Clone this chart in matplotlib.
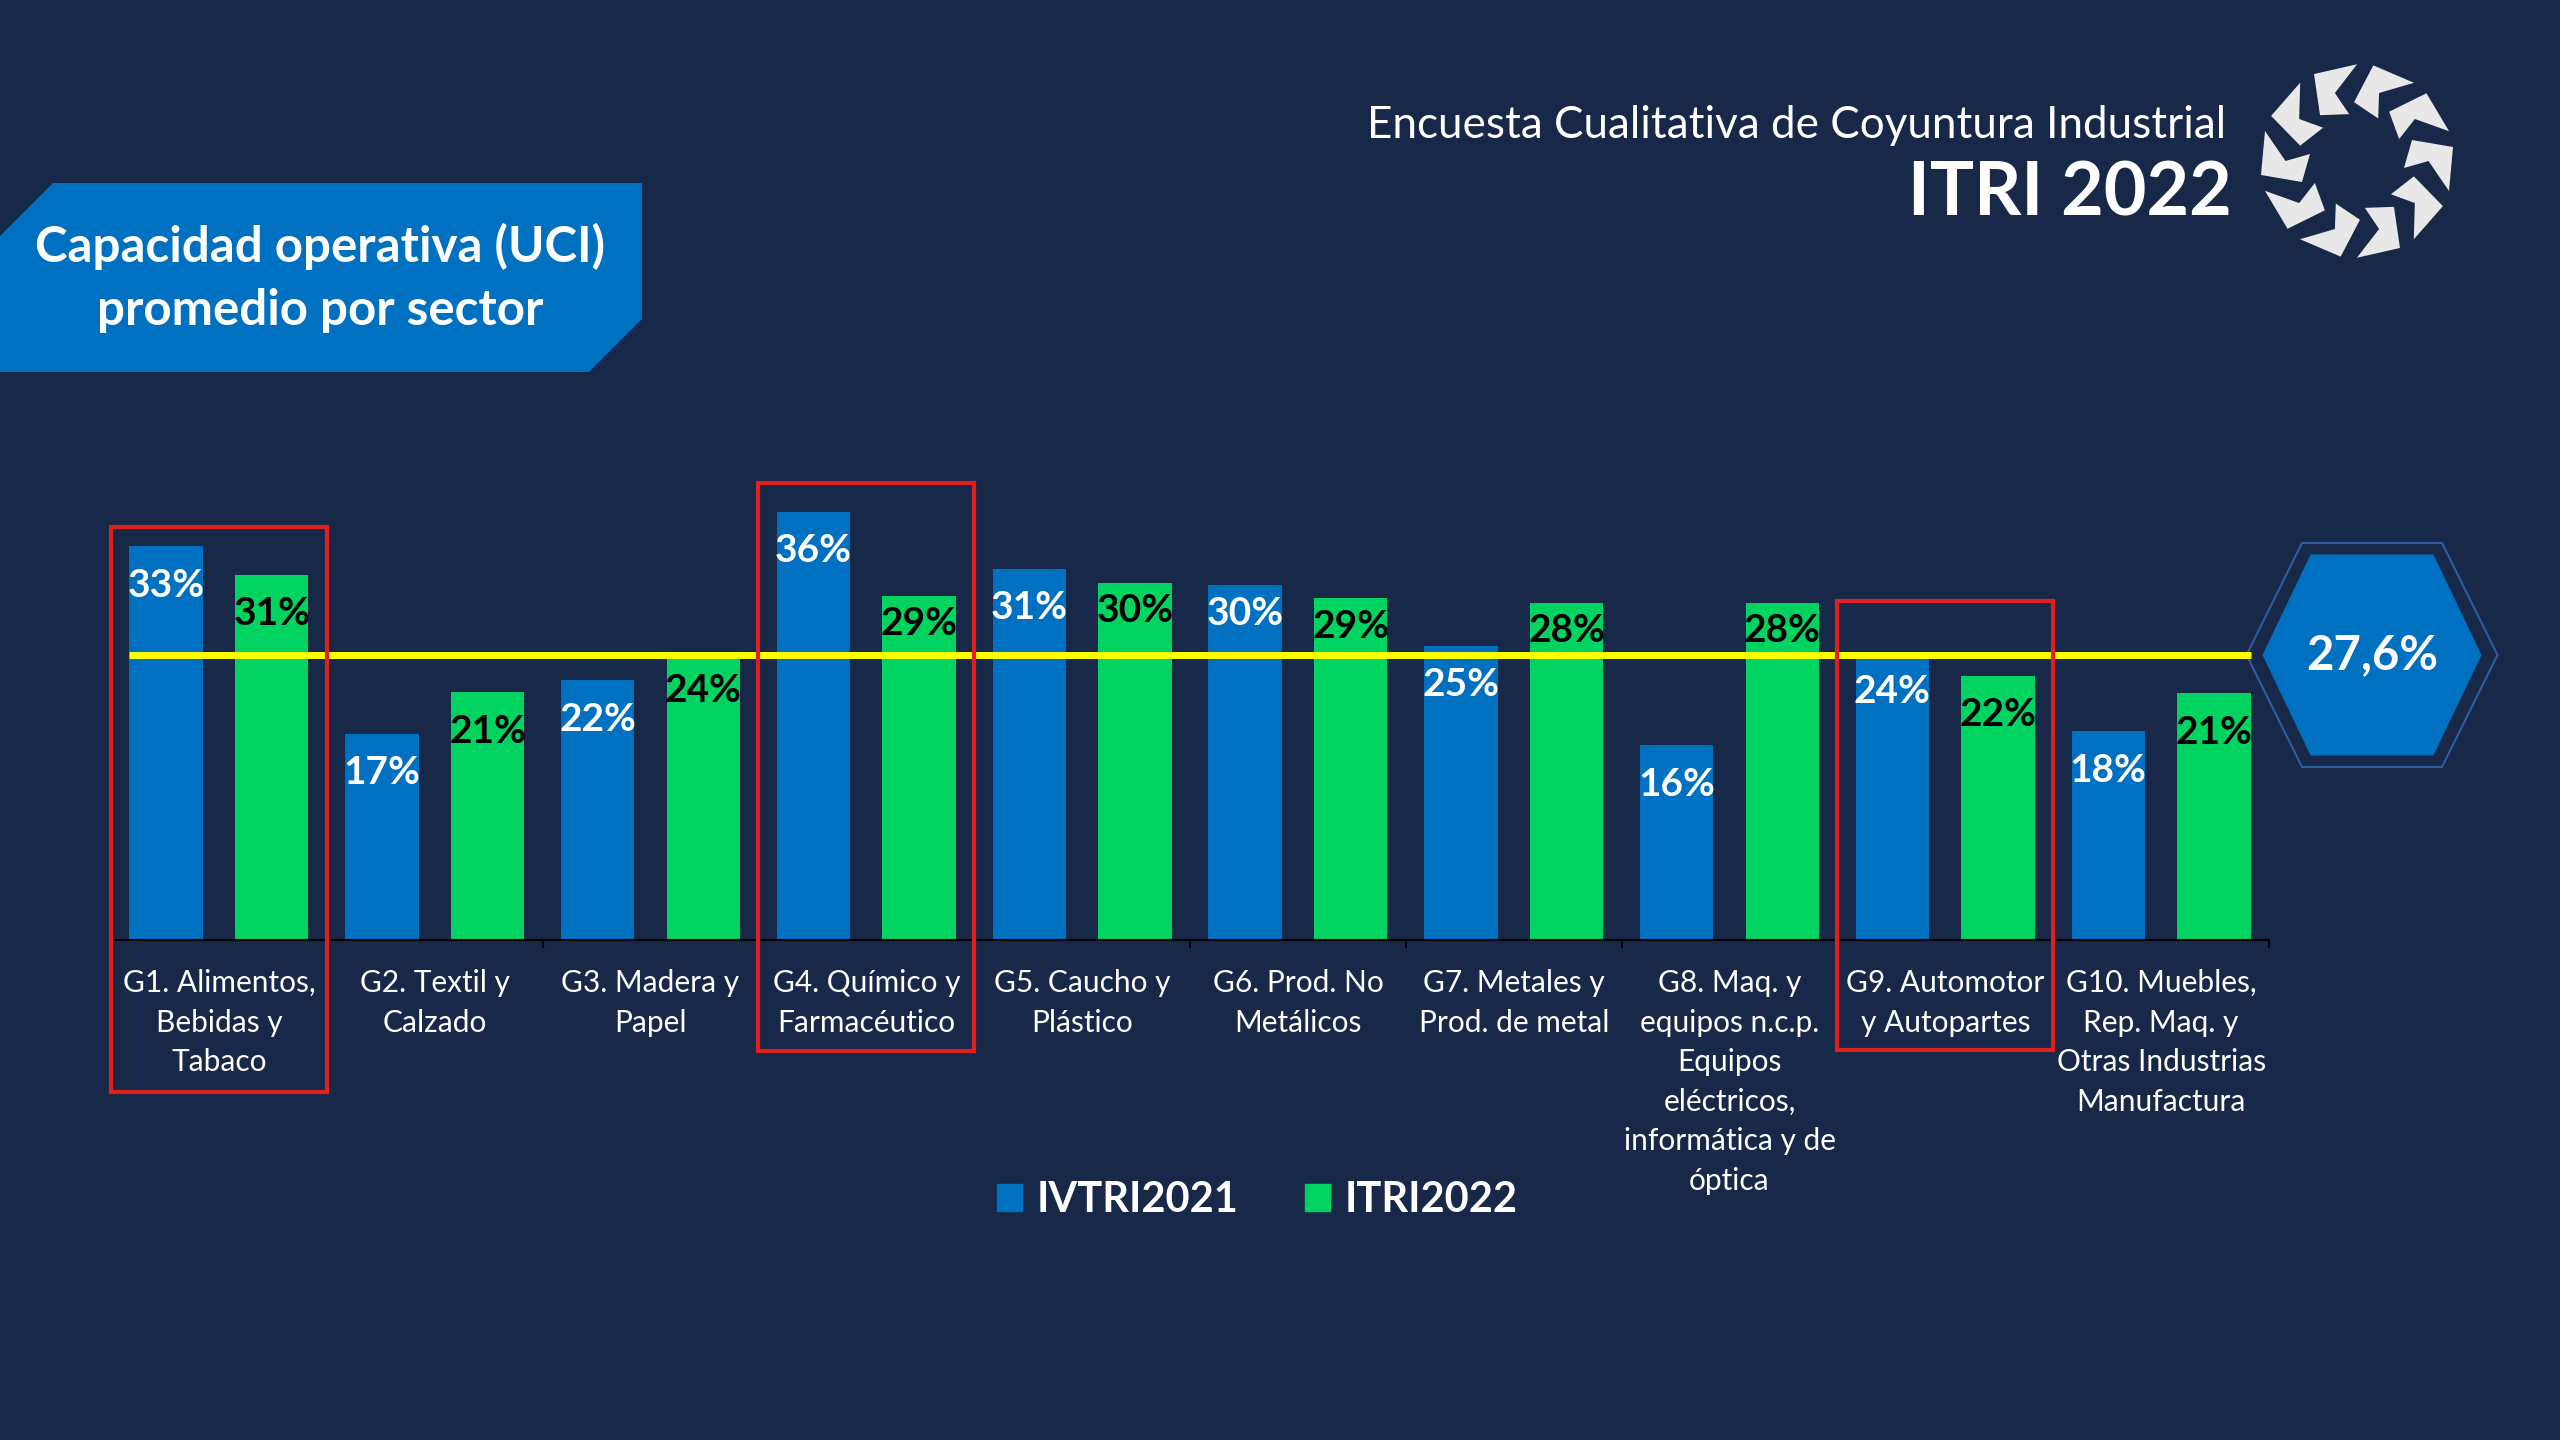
import numpy as np
import matplotlib
matplotlib.use("Agg")
from matplotlib import pyplot as plt
from matplotlib.patches import Polygon, Rectangle, Patch

plt.rcParams['font.family'] = ['Lato', 'DejaVu Sans']

# ---- data ----
sectors = [
    "G1. Alimentos,\nBebidas y\nTabaco",
    "G2. Textil y\nCalzado",
    "G3. Madera y\nPapel",
    "G4. Químico y\nFarmacéutico",
    "G5. Caucho y\nPlástico",
    "G6. Prod. No\nMetálicos",
    "G7. Metales y\nProd. de metal",
    "G8. Maq. y\nequipos n.c.p.\nEquipos\neléctricos,\ninformática y de\nóptica",
    "G9. Automotor\ny Autopartes",
    "G10. Muebles,\nRep. Maq. y\nOtras Industrias\nManufactura",
]
ivtri2021 = [33.2, 17.4, 21.9, 36.1, 31.3, 29.9, 24.8, 16.4, 24.2, 17.6]
itri2022 = [30.8, 20.9, 24.3, 29.0, 30.1, 28.8, 28.4, 28.4, 22.3, 20.8]
series_names = ["IVTRI2021", "ITRI2022"]
avg_label = "27,6%"
avg_line_level = 24.0          # where the yellow line sits in the picture
highlight = [0, 3, 8]          # sectors boxed in red
highlight_top = [34.8, 38.5, 28.6]
highlight_bottom = [-12.8, -9.4, -9.3]
# labels nudged up in the original so they clear the yellow line
raised_blue = [5]
raised_green = [3, 4, 5, 6, 7]

BG = "#182848"
BLUE = "#0070C0"
GREEN = "#00D35F"
RED = "#E0201E"
YELLOW = "#FFFF00"

W, H = 2560, 1440
fig = plt.figure(figsize=(W / 100, H / 100), dpi=100, facecolor=BG)

# full-figure overlay in pixel coordinates for decorations
deco = fig.add_axes([0, 0, 1, 1], zorder=0)
deco.set_xlim(0, W)
deco.set_ylim(H, 0)
deco.axis("off")
deco.set_facecolor("none")

# title banner
c = 53
deco.add_patch(Polygon([(c, 183), (642, 183), (642, 372 - c), (642 - c, 372),
                        (0, 372), (0, 183 + c)], closed=True, fc=BLUE, ec="none"))
deco.text(320, 278, "Capacidad operativa (UCI)\npromedio por sector", color="white",
          fontsize=35.5, fontweight="bold", ha="center", va="center",
          multialignment="center", linespacing=1.5)

# header
deco.text(2226, 125, "Encuesta Cualitativa de Coyuntura Industrial", color="white",
          fontsize=31.7, ha="right", va="center")
deco.text(2232, 194, "ITRI 2022", color="white", fontsize=53, fontweight="bold",
          ha="right", va="center")

# logo: ring of ten notched pieces (local tangential / radial coords)
lx, ly = 2357, 161
piece = [(14, 96), (-30, 92), (0, 71.5), (-7, 47), (21, 55)]
for k in range(10):
    a = np.deg2rad(108 + 36 * k)
    er = np.array([np.cos(a), np.sin(a)])
    et = np.array([-np.sin(a), np.cos(a)])
    pts = []
    for t, r in piece:
        p = t * et + r * er
        pts.append((lx + p[0], ly - p[1]))
    deco.add_patch(Polygon(pts, closed=True, fc="#E8E8E8", ec="none"))

# average hexagon
hx, hy = 2372, 655
def hexagon(w, h, top):
    return [(hx - w / 2, hy), (hx - top / 2, hy - h / 2), (hx + top / 2, hy - h / 2),
            (hx + w / 2, hy), (hx + top / 2, hy + h / 2), (hx - top / 2, hy + h / 2)]
deco.add_patch(Polygon(hexagon(251, 224, 140), closed=True, fc=BG, ec="#2E5C9E", lw=1.5))
deco.add_patch(Polygon(hexagon(219, 201, 123), closed=True, fc=BLUE, ec="none"))
deco.text(hx, hy, avg_label, color="white", fontsize=34, fontweight="bold",
          ha="center", va="center")

# ---- bar chart ----
ax = fig.add_axes([111 / W, 1 - 940 / H, 2158 / W, (940 - 465.6) / H], zorder=2)
ax.set_facecolor("none")
x = np.arange(len(sectors))
bw, off = 0.34, 0.245
ax.bar(x - off, ivtri2021, bw, color=BLUE, zorder=2)
ax.bar(x + off, itri2022, bw, color=GREEN, zorder=2)
ax.set_xlim(-0.5, len(sectors) - 0.5)
ax.set_ylim(0, 40)

for i, (xi, v) in enumerate(zip(x - off, ivtri2021)):
    dy = -20 if i in raised_blue else -28
    ax.annotate(f"{round(v)}%", (xi, v), xytext=(0, dy), textcoords="offset points",
                ha="center", va="center", color="white", fontsize=28,
                fontweight="bold", zorder=4)
for i, (xi, v) in enumerate(zip(x + off, itri2022)):
    dy = -20 if i in raised_green else -28
    ax.annotate(f"{round(v)}%", (xi, v), xytext=(0, dy), textcoords="offset points",
                ha="center", va="center", color="black", fontsize=28,
                fontweight="bold", zorder=4)

ax.plot([-0.415, len(sectors) - 1 + 0.415], [avg_line_level] * 2, color=YELLOW,
        lw=5, zorder=3, solid_capstyle="butt")

for g, top, bot in zip(highlight, highlight_top, highlight_bottom):
    ax.add_patch(Rectangle((g - 0.5, bot), 1.0, top - bot, fill=False, ec=RED,
                           lw=3, clip_on=False, zorder=5))

for s in ["left", "right", "top"]:
    ax.spines[s].set_visible(False)
ax.spines["bottom"].set_color("black")
ax.spines["bottom"].set_linewidth(1.5)
ax.set_yticks([])
ax.set_xticks(x)
ax.set_xticklabels(sectors, color="white", fontsize=21.5, linespacing=1.5,
                   multialignment="center")
ax.tick_params(axis="x", which="major", length=0, pad=21)
ax.set_xticks(np.arange(-0.5, len(sectors)), minor=True)
ax.tick_params(axis="x", which="minor", length=6, width=1.5, color="black",
               direction="out")

handles = [Patch(color=BLUE, label=series_names[0]),
           Patch(color=GREEN, label=series_names[1])]
fig.legend(handles=handles, loc="center", bbox_to_anchor=(1257 / W, 1 - 1200 / H),
           ncol=2, frameon=False, handlelength=0.6, handleheight=0.6,
           handletextpad=0.35, columnspacing=1.6, labelcolor="white",
           prop={"weight": "bold", "size": 30})

fig.savefig("out.png", dpi=100, facecolor=BG)
